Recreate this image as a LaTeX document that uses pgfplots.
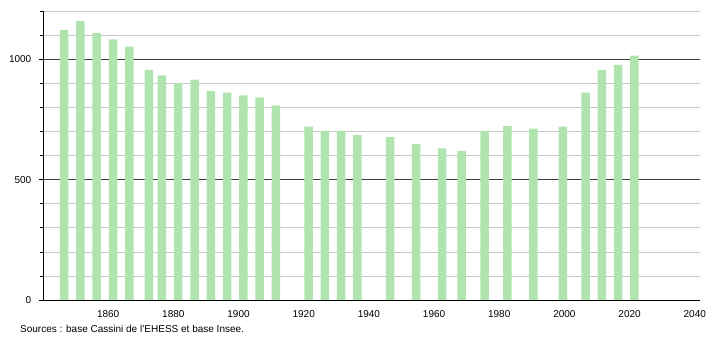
\documentclass[border=0pt]{standalone}
\usepackage{fontspec}
\setmainfont{Liberation Sans}
\usepackage{pgfplots}
\usepackage{pgfplotstable}
\pgfplotsset{compat=1.18}
\definecolor{barg}{RGB}{175,228,175}
\definecolor{gridminor}{RGB}{200,200,200}
\definecolor{gridmajor}{RGB}{60,60,60}
\pgfplotstableread{
year pop
1846 1121
1851 1158
1856 1108
1861 1082
1866 1052
1872 956
1876 933
1881 901
1886 915
1891 867
1896 861
1901 850
1906 841
1911 808
1921 720
1926 702
1931 702
1936 686
1946 676
1954 647
1962 630
1968 619
1975 702
1982 722
1990 712
1999 720
2006 861
2011 955
2016 976
2021 1015
}\popdata
\begin{document}
\begin{tikzpicture}[x=1pt,y=1pt]
\useasboundingbox (-43,-40) rectangle (667,300);
\begin{axis}[
  at={(0,0)}, anchor=origin,
  scale only axis, width=657pt, height=289pt,
  xmin=1840, xmax=2041.6, ymin=0, ymax=1200,
  axis x line*=bottom, axis y line*=left,
  axis line style={-, black, line width=0.8pt},
  font=\fontsize{10}{12}\selectfont,
  /pgf/number format/assume math mode=true,
  /pgf/number format/1000 sep={},
  xtick={1860,1880,...,2040},
  xtick style={draw=none},
  xticklabel style={anchor=north, inner sep=0pt, yshift=-6pt},
  ytick={0,500,1000},
  minor ytick={100,200,300,400,600,700,800,900,1100,1200},
  tick align=outside,
  major tick length=4pt, minor tick length=2.5pt,
  ytick style={black, line width=0.6pt},
  minor y tick style={black, line width=0.5pt},
  yticklabel style={anchor=east, inner sep=0pt, xshift=-7.5pt},
  ymajorgrids, yminorgrids,
  major grid style={gridmajor, line width=0.6pt},
  minor grid style={gridminor, line width=0.6pt},
  clip=false,
]
\addplot[ybar, bar width=8.5pt, bar shift=1.6pt, fill=barg, draw=none] table[x=year, y=pop] {\popdata};
\end{axis}
\node[anchor=west, inner sep=0pt, font=\fontsize{10}{12}\selectfont] at (-23,-28.5) {Sources : base Cassini de l'EHESS et base Insee.};
\end{tikzpicture}
\end{document}
